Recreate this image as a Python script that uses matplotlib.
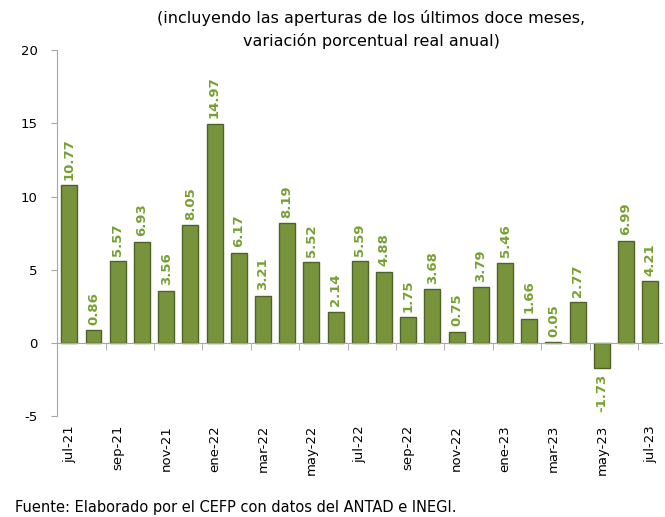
import matplotlib
matplotlib.use('Agg')
import matplotlib.pyplot as plt
import numpy as np

plt.rcParams['font.family'] = ['DejaVu Sans']
plt.rcParams['axes.unicode_minus'] = False

# datos: variacion porcentual real anual (ANTAD)
months = ['jul-21', 'ago-21', 'sep-21', 'oct-21', 'nov-21', 'dic-21', 'ene-22',
          'feb-22', 'mar-22', 'abr-22', 'may-22', 'jun-22', 'jul-22', 'ago-22',
          'sep-22', 'oct-22', 'nov-22', 'dic-22', 'ene-23', 'feb-23', 'mar-23',
          'abr-23', 'may-23', 'jun-23', 'jul-23']
values = [10.77, 0.86, 5.57, 6.93, 3.56, 8.05, 14.97, 6.17, 3.21, 8.19, 5.52,
          2.14, 5.59, 4.88, 1.75, 3.68, 0.75, 3.79, 5.46, 1.66, 0.05, 2.77,
          -1.73, 6.99, 4.21]

bar_color = '#77933C'
edge_color = '#4F6228'
label_color = '#77A033'
axis_color = '#A6A6A6'

fig = plt.figure(figsize=(6.65, 5.17), dpi=100)
ax = fig.add_axes([0.086, 0.195, 0.91, 0.708])

x = np.arange(len(values))
ax.bar(x, values, width=0.66, color=bar_color, edgecolor=edge_color,
       linewidth=1.0, zorder=3)

for xi, v in zip(x, values):
    if v >= 0:
        ax.annotate(f'{v:.2f}', (xi, v), xytext=(0, 4), textcoords='offset points',
                    rotation=90, ha='center', va='bottom', fontsize=9.5,
                    fontweight='bold', color=label_color)
    else:
        ax.annotate(f'{v:.2f}', (xi, v), xytext=(0, -4), textcoords='offset points',
                    rotation=90, ha='center', va='top', fontsize=9.5,
                    fontweight='bold', color=label_color)

ax.set_xlim(-0.5, len(values) - 0.5)
ax.set_ylim(-5, 20)
ax.set_yticks([-5, 0, 5, 10, 15, 20])
ax.tick_params(axis='y', labelsize=9.5, color=axis_color, length=4, pad=10)

# eje x sobre el cero, etiquetas abajo
ax.spines['top'].set_visible(False)
ax.spines['right'].set_visible(False)
ax.spines['left'].set_color(axis_color)
ax.spines['bottom'].set_position(('data', 0))
ax.spines['bottom'].set_color(axis_color)
ax.spines['bottom'].set_zorder(4)
ax.set_xticks(x[::2])
ax.set_xticklabels(months[::2], rotation=90)
ax.set_xticks(np.arange(1.5, len(values) - 1, 2), minor=True)
ax.tick_params(axis='x', which='major', length=0, labelsize=9.5, pad=59)
ax.tick_params(axis='x', which='minor', length=5, color=axis_color)

fig.text(0.558, 0.98, '(incluyendo las aperturas de los últimos doce meses,\nvariación porcentual real anual)',
         ha='center', va='top', fontsize=11.5, linespacing=1.5)
fig.text(0.022, 0.018, 'Fuente: Elaborado por el CEFP con datos del ANTAD e INEGI.',
         ha='left', va='center', fontsize=10.5)

fig.savefig('out.png', dpi=100)
